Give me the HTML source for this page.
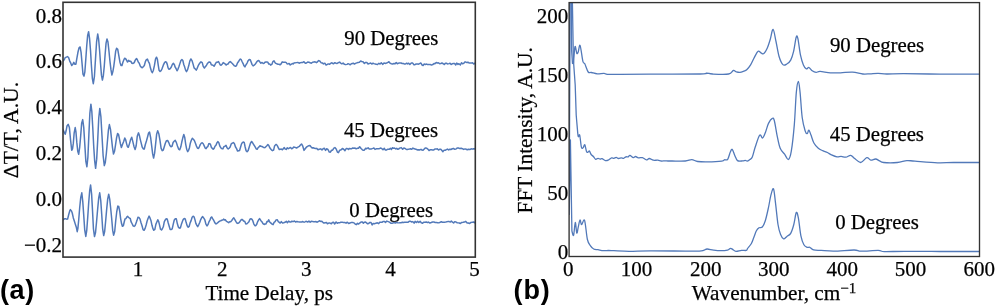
<!DOCTYPE html>
<html><head><meta charset="utf-8"><title>Figure</title>
<style>
html,body{margin:0;padding:0;background:#fff;width:996px;height:307px;overflow:hidden;}
svg{display:block;will-change:transform;}
text{font-family:"Liberation Serif", serif;stroke:#000;stroke-width:0.25px;}
.pl{font-family:"Liberation Sans", sans-serif;font-weight:bold;stroke:none;}

</style></head>
<body>
<svg width="996" height="307" viewBox="0 0 996 307" font-family="Liberation Serif, serif" fill="#000">
<defs>
<clipPath id="cl"><rect x="63" y="2.3" width="412.3" height="254.8"/></clipPath>
<clipPath id="cr"><rect x="569.1" y="2.6" width="410.4" height="253.9"/></clipPath>
</defs>
<text x="62.0" y="22.5" font-size="21" text-anchor="end" >0.8</text>
<text x="62.0" y="68.3" font-size="21" text-anchor="end" >0.6</text>
<text x="62.0" y="114.2" font-size="21" text-anchor="end" >0.4</text>
<text x="62.0" y="160.1" font-size="21" text-anchor="end" >0.2</text>
<text x="62.0" y="206.1" font-size="21" text-anchor="end" >0.0</text>
<text x="62.0" y="252.1" font-size="21" text-anchor="end" >−0.2</text>
<text x="138.1" y="276.2" font-size="21" text-anchor="middle" >1</text>
<text x="222.3" y="276.2" font-size="21" text-anchor="middle" >2</text>
<text x="306.3" y="276.2" font-size="21" text-anchor="middle" >3</text>
<text x="390.5" y="276.2" font-size="21" text-anchor="middle" >4</text>
<text x="474.6" y="276.2" font-size="21" text-anchor="middle" >5</text>
<text x="269.2" y="299.8" font-size="21.15" text-anchor="middle" >Time Delay, ps</text>
<text transform="translate(17.7,130.1) rotate(-90)" font-size="21.6" text-anchor="middle">ΔT/T, A.U.</text>
<text x="391.3" y="45.4" font-size="20.8" text-anchor="middle" >90 Degrees</text>
<text x="391.0" y="136.8" font-size="20.8" text-anchor="middle" >45 Degrees</text>
<text x="391.2" y="216.8" font-size="20.8" text-anchor="middle" >0 Degrees</text>
<text x="568.2" y="22.5" font-size="21" text-anchor="end" >200</text>
<text x="568.2" y="81.6" font-size="21" text-anchor="end" >150</text>
<text x="568.2" y="140.7" font-size="21" text-anchor="end" >100</text>
<text x="568.2" y="199.7" font-size="21" text-anchor="end" >50</text>
<text x="568.2" y="258.8" font-size="21" text-anchor="end" >0</text>
<text x="568.3" y="276.2" font-size="21" text-anchor="middle" >0</text>
<text x="636.6" y="276.2" font-size="21" text-anchor="middle" >100</text>
<text x="705.8" y="276.2" font-size="21" text-anchor="middle" >200</text>
<text x="773.8" y="276.2" font-size="21" text-anchor="middle" >300</text>
<text x="842.3" y="276.2" font-size="21" text-anchor="middle" >400</text>
<text x="910.6" y="276.2" font-size="21" text-anchor="middle" >500</text>
<text x="979.2" y="276.2" font-size="21" text-anchor="middle" >600</text>
<text x="774.0" y="299.7" font-size="21.25" text-anchor="middle">Wavenumber, cm<tspan font-size="15" dy="-7">−1</tspan></text>
<text transform="translate(532.0,130.3) rotate(-90)" font-size="21.4" text-anchor="middle">FFT Intensity, A.U.</text>
<text x="877.0" y="52.0" font-size="20.8" text-anchor="middle" >90 Degrees</text>
<text x="876.9" y="140.6" font-size="20.8" text-anchor="middle" >45 Degrees</text>
<text x="877.0" y="229.0" font-size="20.8" text-anchor="middle" >0 Degrees</text>
<text x="0" y="299" class="pl" font-size="27" letter-spacing="0.6">(a)</text>
<text x="513.5" y="299" class="pl" font-size="27" letter-spacing="0.9">(b)</text>
<g clip-path="url(#cl)" fill="none" stroke="#5279b9" stroke-width="1.5" stroke-linejoin="round">
<path d="M62.50,61.80 L63.18,60.56 L64.14,59.94 L65.25,57.43 L66.38,57.10 L67.40,56.57 L68.57,57.54 L69.73,61.09 L70.79,63.16 L71.70,65.59 L72.89,64.19 L73.80,62.40 L74.72,64.15 L75.90,64.16 L76.81,58.74 L77.89,52.54 L79.02,47.80 L80.10,46.96 L81.08,52.40 L82.03,63.09 L82.98,74.22 L84.00,76.13 L84.87,71.82 L85.78,59.38 L86.72,46.01 L87.66,35.34 L88.60,31.67 L89.54,38.34 L90.49,50.11 L91.44,65.93 L92.38,78.69 L93.30,83.68 L94.41,76.53 L95.50,58.85 L96.59,41.80 L97.70,34.00 L98.62,39.24 L99.56,49.95 L100.51,63.24 L101.46,75.17 L102.40,80.02 L103.32,75.83 L104.23,66.66 L105.14,54.31 L106.06,43.11 L107.00,38.93 L107.96,41.99 L108.95,51.02 L109.94,61.16 L110.93,69.46 L111.90,75.02 L112.86,71.61 L113.81,66.06 L114.75,58.95 L115.68,51.12 L116.60,48.28 L117.74,49.32 L118.87,55.92 L119.96,62.20 L121.00,65.42 L121.97,65.59 L122.90,62.23 L123.78,60.05 L124.60,58.26 L125.65,58.75 L126.61,60.23 L127.40,62.08 L127.89,61.74 L128.60,60.36 L129.52,61.27 L130.71,61.25 L131.97,63.25 L133.10,63.45 L134.23,62.62 L135.24,60.12 L136.50,58.53 L137.32,59.71 L138.25,62.02 L139.24,63.14 L140.25,66.03 L141.25,67.17 L142.20,67.75 L143.28,66.67 L144.33,65.50 L145.37,61.63 L146.39,59.59 L147.40,59.11 L148.41,61.53 L149.42,63.45 L150.40,67.83 L151.37,71.04 L152.30,72.75 L153.41,70.19 L154.48,65.19 L155.51,59.19 L156.50,57.16 L157.40,59.27 L158.23,65.09 L159.09,70.27 L160.10,71.51 L161.08,70.76 L162.18,68.34 L163.32,65.17 L164.42,62.81 L165.40,61.65 L166.40,62.12 L167.26,64.39 L168.08,67.93 L169.00,69.28 L170.06,68.73 L171.20,67.19 L172.34,64.51 L173.40,63.23 L174.33,64.60 L175.17,67.20 L176.03,68.52 L177.00,70.78 L177.90,69.26 L178.88,66.77 L179.90,63.62 L180.92,60.51 L181.90,59.63 L182.84,60.53 L183.77,64.50 L184.69,67.12 L185.60,70.12 L186.50,71.60 L187.61,69.66 L188.71,65.82 L189.80,61.12 L190.90,58.95 L191.97,60.58 L193.02,63.89 L194.11,67.88 L195.30,69.09 L196.20,70.12 L197.19,68.34 L198.21,65.72 L199.22,63.99 L200.17,62.60 L201.00,61.87 L202.24,62.57 L203.23,66.36 L204.40,68.04 L205.34,66.66 L206.39,65.51 L207.49,63.41 L208.56,62.21 L209.50,62.03 L210.46,62.42 L211.29,64.70 L212.09,64.92 L213.00,65.29 L214.08,66.26 L215.25,64.23 L216.42,62.23 L217.50,62.17 L218.48,61.56 L219.39,63.25 L220.24,64.92 L221.00,65.22 L222.14,64.19 L223.20,62.59 L224.03,63.23 L224.94,63.70 L226.10,65.06 L226.99,64.29 L228.02,63.99 L229.10,62.42 L230.19,61.62 L231.20,62.43 L232.34,63.47 L233.42,64.66 L234.50,65.89 L235.60,66.34 L236.52,65.44 L237.46,63.06 L238.41,61.82 L239.36,60.13 L240.30,59.00 L241.23,59.69 L242.16,61.72 L243.09,63.57 L244.00,65.85 L244.90,66.88 L246.01,64.77 L247.09,63.06 L248.16,60.64 L249.20,59.47 L250.19,59.65 L251.14,61.99 L252.10,64.62 L253.10,65.88 L254.19,65.17 L255.33,63.95 L256.46,62.32 L257.50,60.98 L258.75,60.58 L259.89,62.02 L260.90,63.21 L262.09,62.49 L263.20,63.47 L264.03,63.32 L264.91,62.27 L266.00,61.93 L266.82,61.88 L267.77,62.17 L268.76,64.10 L269.73,64.05 L270.60,65.11 L271.80,64.42 L272.87,61.71 L274.00,60.83 L274.91,62.40 L275.83,63.38 L276.83,63.79 L278.00,64.37 L278.93,64.18 L279.99,64.84 L281.10,63.84 L282.21,61.87 L283.27,62.35 L284.20,62.32 L285.31,62.14 L286.23,62.56 L287.12,63.91 L288.20,63.77 L289.13,63.57 L290.21,65.00 L291.35,64.14 L292.43,63.57 L293.35,63.94 L294.00,62.89 L295.38,62.87 L296.48,62.62 L297.72,62.42 L299.12,63.21 L300.30,62.63 L301.70,62.47 L302.91,62.41 L303.96,61.72 L305.30,63.30 L306.53,62.98 L307.74,62.00 L308.97,62.13 L310.06,62.85 L311.39,63.15 L312.56,62.24 L313.85,62.02 L315.07,61.81 L316.45,62.63 L317.53,61.88 L318.56,60.58 L319.73,61.03 L321.01,62.65 L322.40,62.91 L323.43,63.87 L324.86,63.17 L326.05,65.08 L327.41,64.28 L328.53,63.88 L329.65,64.34 L330.82,63.17 L331.94,62.84 L333.37,63.80 L334.80,62.68 L336.13,63.23 L337.15,63.49 L338.24,62.70 L339.64,62.10 L340.62,63.02 L341.79,63.76 L343.13,63.10 L344.50,64.33 L345.63,64.63 L347.03,64.38 L348.11,63.66 L349.14,64.09 L350.25,64.81 L351.35,63.70 L352.32,63.43 L353.29,63.19 L354.47,64.03 L355.48,63.41 L356.85,62.88 L358.05,62.45 L359.41,62.28 L360.67,61.06 L361.70,61.50 L363.01,61.68 L364.38,63.44 L365.66,62.44 L366.84,62.54 L368.01,63.96 L369.23,63.58 L370.66,62.93 L371.80,64.02 L373.00,63.20 L374.09,63.64 L375.24,63.95 L376.31,64.34 L377.53,64.46 L378.91,63.26 L380.02,64.05 L381.29,62.77 L382.65,64.37 L384.00,62.91 L385.22,63.42 L386.57,63.09 L387.96,62.30 L388.94,61.73 L390.07,63.18 L391.33,63.76 L392.62,64.03 L393.94,63.49 L395.15,63.84 L396.23,62.54 L397.32,63.73 L398.75,63.07 L399.89,63.09 L401.15,63.06 L402.15,63.50 L403.25,63.46 L404.22,63.92 L405.51,64.01 L406.61,63.21 L407.63,63.97 L408.68,63.23 L409.86,64.47 L411.29,63.05 L412.70,63.12 L413.94,64.70 L414.97,64.73 L416.17,63.99 L417.56,63.94 L418.53,64.21 L419.64,63.54 L420.76,62.92 L422.08,64.99 L423.10,65.47 L424.20,64.08 L425.35,64.41 L426.51,64.08 L427.50,64.48 L428.91,64.61 L429.99,64.37 L431.41,65.12 L432.76,64.56 L433.99,63.55 L434.97,63.63 L436.24,62.46 L437.22,63.06 L438.35,62.73 L439.66,63.71 L440.77,63.51 L441.92,63.00 L443.31,63.71 L444.38,64.57 L445.40,63.29 L446.41,63.25 L447.49,63.94 L448.88,63.62 L450.09,63.16 L451.21,64.51 L452.23,63.77 L453.49,63.48 L454.57,63.48 L455.75,64.97 L456.72,63.15 L458.02,64.40 L458.98,63.71 L460.38,65.02 L461.46,62.77 L462.50,63.76 L463.80,63.25 L465.13,61.82 L466.46,62.43 L467.87,62.16 L468.95,62.95 L470.24,62.99 L471.48,62.93 L472.55,62.80 L473.73,64.03 L475.00,63.08 L475.30,64.13"/>
<path d="M62.50,128.75 L63.23,130.12 L64.27,132.35 L65.20,134.30 L66.12,130.79 L67.00,125.96 L68.17,124.31 L69.40,127.58 L70.60,140.24 L71.70,150.24 L72.52,148.90 L73.30,143.42 L74.13,133.25 L75.20,127.61 L75.95,131.92 L76.82,142.42 L77.75,151.23 L78.70,154.21 L79.66,147.34 L80.66,136.13 L81.67,123.17 L82.70,119.64 L83.74,127.39 L84.80,144.34 L85.86,161.36 L86.90,166.75 L87.90,157.05 L88.87,134.85 L89.86,113.40 L90.90,104.13 L91.80,111.12 L92.75,127.25 L93.72,146.51 L94.68,160.98 L95.60,168.32 L96.68,159.15 L97.71,140.16 L98.74,118.21 L99.80,108.44 L100.89,116.55 L101.99,135.71 L103.13,155.76 L104.30,165.65 L105.30,162.44 L106.34,153.48 L107.40,141.45 L108.43,129.93 L109.40,124.57 L110.50,129.33 L111.51,138.61 L112.50,147.62 L113.50,154.08 L114.53,151.31 L115.57,144.74 L116.60,137.60 L117.60,133.54 L118.58,134.62 L119.54,139.31 L120.49,144.00 L121.40,147.47 L122.56,144.23 L123.67,141.53 L124.80,138.00 L125.67,139.72 L126.55,143.61 L127.43,146.65 L128.30,147.29 L129.44,143.87 L130.57,139.74 L131.70,137.18 L132.83,141.64 L133.97,146.40 L135.10,149.47 L136.18,145.72 L137.26,136.37 L138.50,132.85 L139.35,135.28 L140.25,139.36 L141.21,143.08 L142.23,147.21 L143.30,148.96 L144.28,149.01 L145.34,144.46 L146.44,140.93 L147.54,136.95 L148.57,132.94 L149.50,132.01 L150.67,137.74 L151.68,145.88 L152.62,153.68 L153.60,158.07 L154.62,153.10 L155.62,143.87 L156.65,134.12 L157.70,130.73 L158.80,133.66 L159.94,140.14 L161.08,148.12 L162.20,150.69 L163.28,150.02 L164.35,146.56 L165.42,143.05 L166.50,140.67 L167.62,140.43 L168.76,142.58 L169.89,145.41 L171.00,146.69 L172.06,146.29 L173.10,142.55 L174.14,141.24 L175.20,140.31 L176.31,142.39 L177.46,145.96 L178.60,149.09 L179.70,149.81 L180.76,147.10 L181.79,142.03 L182.80,137.82 L183.80,134.58 L184.77,137.57 L185.72,144.28 L186.68,149.19 L187.70,151.66 L188.57,150.28 L189.46,147.64 L190.38,142.92 L191.33,140.25 L192.30,138.25 L193.31,139.20 L194.36,140.43 L195.43,143.27 L196.48,146.12 L197.50,148.30 L198.48,148.38 L199.45,146.56 L200.40,144.39 L201.32,143.13 L202.20,142.80 L203.24,143.79 L204.22,145.87 L205.17,148.02 L206.10,148.68 L207.00,147.02 L207.87,146.50 L208.73,143.84 L209.60,143.61 L210.47,144.38 L211.33,147.19 L212.23,148.36 L213.20,149.27 L214.07,148.36 L215.00,146.28 L215.96,145.27 L216.91,142.86 L217.80,141.60 L218.84,142.73 L219.83,146.09 L220.78,147.74 L221.70,148.64 L222.85,148.88 L223.93,146.65 L225.00,146.03 L226.00,145.38 L226.99,147.65 L228.20,148.94 L229.11,148.27 L230.14,147.01 L231.22,143.97 L232.33,143.19 L233.40,142.55 L234.45,143.68 L235.51,147.03 L236.56,148.66 L237.60,151.08 L238.60,150.78 L239.57,150.47 L240.52,147.30 L241.44,144.12 L242.33,142.67 L243.20,142.06 L244.21,142.43 L245.16,147.01 L246.10,150.77 L247.10,151.82 L248.18,150.57 L249.31,146.73 L250.45,143.26 L251.60,141.48 L252.51,142.55 L253.43,144.27 L254.36,145.63 L255.28,147.22 L256.20,148.81 L257.14,149.32 L258.11,147.72 L259.06,146.88 L259.97,145.75 L260.80,146.30 L261.94,146.53 L262.93,147.00 L264.00,147.72 L264.91,147.62 L265.86,146.69 L266.86,145.74 L267.90,144.50 L268.80,145.41 L269.76,147.79 L270.73,148.98 L271.66,150.11 L272.50,150.67 L273.62,150.09 L274.58,145.95 L275.70,144.61 L276.53,144.62 L277.43,145.83 L278.39,148.02 L279.35,149.56 L280.30,149.27 L281.31,149.11 L282.40,149.76 L283.45,148.43 L284.36,147.64 L285.00,148.88 L286.16,149.45 L287.34,147.81 L288.31,148.71 L289.31,148.14 L290.45,147.44 L291.66,148.71 L292.67,148.26 L293.73,146.97 L295.14,147.39 L296.55,148.01 L297.94,147.17 L299.28,146.42 L300.43,144.97 L301.50,143.99 L302.71,145.96 L304.01,150.39 L304.99,149.03 L306.36,147.21 L307.60,146.29 L308.76,145.64 L309.93,145.48 L310.90,146.74 L312.10,147.90 L313.28,147.67 L314.46,148.34 L315.47,148.52 L316.67,148.37 L317.98,149.70 L319.19,149.30 L320.61,148.85 L321.98,149.86 L323.03,148.86 L324.23,148.22 L325.56,150.43 L326.56,148.79 L327.95,149.50 L329.30,152.06 L330.36,152.15 L331.56,150.23 L332.60,150.23 L333.88,148.07 L334.90,147.57 L336.16,148.96 L337.40,152.05 L338.41,152.69 L339.76,150.16 L341.19,149.80 L342.36,148.50 L343.68,149.23 L344.95,150.62 L346.19,148.56 L347.17,148.48 L348.42,149.41 L349.44,148.41 L350.72,148.67 L351.73,148.67 L352.80,147.99 L354.06,148.30 L355.08,148.04 L356.09,148.86 L357.46,148.27 L358.43,148.32 L359.66,146.69 L361.07,148.46 L362.15,149.59 L363.30,150.31 L364.29,150.17 L365.70,148.24 L366.76,148.76 L368.11,147.72 L369.22,149.08 L370.55,148.96 L371.52,148.90 L372.83,148.40 L373.90,147.93 L375.02,149.41 L376.32,148.85 L377.54,148.67 L378.88,148.80 L380.30,148.07 L381.69,148.44 L383.00,149.76 L384.32,148.33 L385.40,150.07 L386.66,149.98 L387.84,149.23 L389.14,149.33 L390.37,148.31 L391.44,149.36 L392.46,147.74 L393.48,148.31 L394.45,148.01 L395.74,148.94 L396.73,148.36 L397.87,149.30 L398.86,148.75 L400.26,147.87 L401.27,147.61 L402.64,149.32 L403.90,147.95 L404.91,148.41 L406.02,149.17 L406.99,149.66 L408.13,149.21 L409.55,149.01 L410.53,148.68 L411.70,149.30 L412.92,148.13 L414.29,148.68 L415.25,149.07 L416.58,149.56 L417.77,150.05 L418.82,149.74 L419.91,149.96 L421.00,149.28 L422.01,150.05 L423.01,150.36 L424.27,148.96 L425.43,147.89 L426.81,148.33 L427.87,149.13 L429.01,150.58 L430.09,149.83 L431.41,149.72 L432.54,149.95 L433.81,149.94 L434.85,149.05 L435.88,149.12 L437.26,148.86 L438.56,150.07 L439.59,149.26 L440.80,149.14 L441.92,150.45 L442.93,151.64 L443.94,150.36 L445.25,150.30 L446.30,149.61 L447.45,149.05 L448.60,149.94 L449.87,149.26 L450.89,149.48 L452.29,148.75 L453.52,148.45 L454.83,149.32 L456.16,148.85 L457.43,147.92 L458.54,147.95 L459.88,148.56 L461.14,148.27 L462.40,148.71 L463.68,149.43 L465.01,148.89 L466.21,149.31 L467.25,149.75 L468.66,149.24 L469.88,149.52 L471.08,148.79 L472.24,149.15 L473.30,148.84 L474.32,149.08 L475.30,148.47"/>
<path d="M62.50,219.77 L63.31,219.77 L64.46,218.84 L65.50,218.74 L66.60,219.14 L67.60,219.10 L68.73,214.47 L69.80,210.71 L70.42,209.64 L71.40,210.85 L72.24,213.01 L73.32,217.91 L74.49,221.53 L75.57,225.10 L76.40,227.57 L77.22,231.71 L77.90,228.33 L78.70,219.99 L79.69,207.81 L80.76,197.41 L81.80,192.83 L82.77,201.49 L83.74,215.34 L84.74,230.21 L85.80,236.44 L86.72,230.70 L87.71,217.53 L88.71,202.51 L89.68,190.72 L90.60,184.96 L91.61,194.09 L92.52,210.62 L93.45,229.02 L94.50,236.60 L95.48,232.82 L96.54,221.98 L97.64,209.28 L98.72,197.87 L99.70,192.85 L100.76,200.58 L101.71,214.32 L102.66,228.80 L103.70,235.56 L104.64,231.62 L105.63,221.29 L106.66,209.38 L107.69,199.09 L108.70,194.17 L109.70,199.03 L110.70,208.46 L111.70,218.74 L112.67,230.13 L113.60,235.19 L114.69,231.51 L115.72,220.79 L116.74,211.75 L117.80,206.13 L118.73,206.52 L119.71,211.18 L120.68,218.79 L121.60,223.81 L122.40,226.28 L123.41,225.53 L124.21,221.99 L125.00,219.05 L125.89,218.64 L126.79,217.09 L127.60,216.31 L128.43,217.24 L129.50,218.10 L130.24,218.51 L131.14,221.94 L132.12,223.76 L133.12,225.87 L134.10,226.39 L135.04,225.75 L135.99,223.23 L136.94,220.59 L137.91,217.34 L138.90,217.53 L139.92,218.87 L140.96,222.50 L142.02,225.74 L143.07,229.58 L144.10,230.29 L145.12,228.40 L146.13,225.04 L147.13,220.95 L148.12,218.27 L149.10,216.15 L150.07,218.18 L151.04,220.84 L151.98,225.29 L152.91,228.63 L153.80,230.27 L154.86,229.40 L155.86,224.34 L156.84,222.07 L157.80,219.75 L158.72,221.56 L159.61,225.36 L160.51,229.25 L161.50,229.99 L162.37,228.77 L163.30,226.79 L164.26,221.86 L165.23,219.95 L166.20,218.73 L167.18,218.87 L168.18,222.70 L169.18,226.21 L170.16,229.47 L171.10,229.61 L172.20,228.88 L173.25,224.09 L174.27,220.01 L175.30,218.78 L176.32,218.81 L177.31,223.53 L178.33,226.97 L179.40,228.13 L180.33,227.96 L181.31,224.60 L182.30,221.77 L183.28,219.29 L184.20,218.56 L185.24,218.99 L186.19,222.58 L187.16,225.75 L188.20,227.29 L189.13,226.51 L190.11,222.89 L191.12,220.62 L192.12,217.22 L193.10,216.21 L194.03,216.77 L194.94,219.61 L195.85,223.36 L196.76,225.30 L197.70,226.60 L198.69,224.83 L199.70,222.43 L200.73,219.54 L201.74,217.61 L202.70,216.63 L203.81,218.19 L204.86,219.95 L205.91,224.19 L207.00,225.96 L207.94,224.67 L208.93,221.97 L209.93,220.11 L210.90,217.62 L211.80,216.97 L212.79,218.89 L213.68,220.22 L214.58,222.32 L215.60,223.69 L216.54,223.85 L217.57,222.78 L218.63,221.97 L219.69,221.17 L220.70,220.73 L221.67,220.24 L222.63,220.12 L223.57,219.16 L224.46,219.91 L225.30,219.73 L226.46,221.40 L227.49,221.87 L228.70,222.66 L229.63,221.76 L230.67,221.72 L231.76,220.47 L232.82,218.83 L233.80,217.88 L234.86,219.55 L235.83,221.40 L236.78,222.94 L237.80,223.39 L238.68,223.06 L239.60,222.13 L240.54,220.58 L241.48,219.62 L242.40,219.54 L243.54,220.95 L244.69,221.32 L245.81,223.99 L246.90,223.82 L247.94,222.83 L248.93,221.75 L249.91,219.15 L250.90,218.81 L251.88,219.20 L252.86,220.96 L253.85,224.09 L254.90,225.66 L255.80,225.68 L256.74,224.23 L257.70,221.51 L258.66,219.83 L259.60,218.62 L260.74,220.44 L261.86,221.73 L262.97,223.69 L264.10,224.48 L265.03,224.02 L265.99,223.98 L266.94,221.56 L267.86,221.74 L268.70,219.70 L269.90,222.20 L270.97,223.17 L272.10,224.18 L273.06,224.71 L274.07,222.42 L275.09,221.69 L276.10,219.87 L277.17,219.74 L278.30,221.63 L279.30,222.33 L280.00,223.10 L281.31,221.65 L282.57,223.06 L283.65,222.74 L284.96,222.30 L286.31,221.31 L287.42,222.73 L288.61,221.11 L289.75,221.94 L290.78,222.09 L291.91,221.21 L293.06,221.63 L294.47,221.01 L295.46,221.93 L296.76,221.60 L298.19,221.86 L299.44,221.98 L300.58,222.11 L301.83,221.97 L302.79,221.54 L303.95,222.16 L304.93,221.85 L306.28,221.30 L307.65,222.01 L308.94,221.11 L310.16,222.29 L311.22,221.36 L312.47,221.41 L313.65,221.79 L314.99,221.67 L316.00,221.55 L317.23,222.22 L318.62,221.39 L319.67,220.77 L320.72,221.49 L321.87,221.22 L322.90,222.28 L323.91,223.04 L325.25,222.70 L326.46,222.41 L327.44,223.80 L328.67,223.12 L330.00,223.08 L331.35,223.76 L332.44,222.48 L333.44,222.19 L334.66,223.96 L336.06,221.95 L337.31,223.35 L338.39,222.71 L339.66,222.85 L340.83,222.18 L342.26,222.13 L343.34,222.57 L344.73,222.49 L346.07,223.15 L347.34,222.17 L348.66,223.51 L349.95,222.97 L350.96,222.60 L352.04,222.51 L353.12,222.62 L354.40,223.12 L355.38,224.27 L356.45,224.65 L357.47,223.32 L358.48,224.08 L359.66,223.03 L361.01,222.03 L362.08,221.88 L363.38,223.10 L364.47,222.18 L365.50,221.94 L366.54,222.89 L367.66,223.81 L368.64,223.46 L369.92,222.38 L371.01,222.54 L372.14,224.95 L373.15,223.45 L374.54,223.75 L375.97,223.17 L377.32,222.77 L378.68,223.66 L379.73,222.19 L380.96,222.28 L382.01,222.36 L383.00,221.51 L384.26,221.45 L385.51,222.40 L386.86,221.07 L388.17,221.63 L389.48,222.16 L390.84,223.30 L392.04,223.31 L393.42,222.84 L394.47,222.66 L395.61,222.99 L396.57,222.39 L397.59,222.68 L398.94,222.87 L400.08,222.67 L401.07,222.82 L402.28,222.17 L403.49,222.54 L404.54,222.32 L405.62,222.23 L406.92,222.22 L407.89,222.36 L409.18,221.32 L410.56,221.36 L411.76,221.97 L412.85,221.61 L414.10,223.15 L415.13,221.34 L416.48,222.52 L417.63,221.26 L418.78,222.48 L420.11,221.33 L421.28,222.81 L422.63,223.16 L423.61,222.18 L425.03,222.26 L426.30,222.03 L427.51,222.61 L428.48,222.05 L429.91,223.01 L431.26,222.56 L432.64,221.99 L433.93,222.08 L435.15,222.44 L436.36,222.44 L437.77,222.70 L438.79,222.87 L440.21,222.29 L441.43,221.67 L442.44,222.32 L443.54,222.20 L444.55,222.15 L445.78,222.07 L446.84,221.85 L448.09,221.40 L449.20,221.60 L450.34,222.08 L451.31,221.08 L452.54,222.19 L453.63,222.99 L454.67,221.65 L456.05,222.08 L457.22,222.74 L458.23,222.87 L459.26,222.98 L460.39,223.53 L461.75,222.39 L463.06,222.27 L464.40,222.08 L465.80,221.38 L467.13,222.92 L468.32,222.98 L469.66,223.55 L470.91,222.42 L472.22,222.35 L473.37,222.00 L474.70,222.81 L475.30,221.62"/>
</g>
<g clip-path="url(#cr)" fill="none" stroke="#5279b9" stroke-width="1.3" stroke-linejoin="round">
<path d="M569.20,120.00 L570.30,-300.00 L571.60,50.00 L572.50,63.50 L573.50,63.20 C573.75,60.45 574.45,48.35 575.00,46.70 C575.55,45.05 576.27,52.43 576.80,53.30 C577.33,54.17 577.65,53.20 578.20,51.90 C578.75,50.60 579.32,43.92 580.10,45.50 C580.88,47.08 582.12,58.35 582.90,61.40 C583.68,64.45 583.92,62.03 584.80,63.80 C585.68,65.57 587.10,70.55 588.20,72.00 C589.30,73.45 589.88,72.18 591.40,72.50 C592.92,72.82 595.20,73.77 597.30,73.90 C599.40,74.03 602.30,73.23 604.00,73.30 C605.70,73.37 604.83,74.13 607.50,74.30 C610.17,74.47 612.92,74.33 620.00,74.30 C627.08,74.27 636.67,74.15 650.00,74.10 C663.33,74.05 690.53,74.17 700.00,74.00 C709.47,73.83 704.72,73.10 706.80,73.10 C708.88,73.10 708.87,73.85 712.50,74.00 C716.13,74.15 725.13,74.58 728.60,74.00 C732.07,73.42 732.00,70.85 733.30,70.50 C734.60,70.15 735.30,71.58 736.40,71.90 C737.50,72.22 738.67,72.52 739.90,72.40 C741.13,72.28 742.67,71.63 743.80,71.20 C744.93,70.77 745.57,70.85 746.70,69.80 C747.83,68.75 749.30,67.02 750.60,64.90 C751.90,62.78 753.25,59.37 754.50,57.10 C755.75,54.83 756.95,51.95 758.10,51.30 C759.25,50.65 760.43,52.82 761.40,53.20 C762.37,53.58 762.93,54.42 763.90,53.60 C764.87,52.78 766.15,50.65 767.20,48.30 C768.25,45.95 769.22,42.65 770.20,39.50 C771.18,36.35 772.13,29.07 773.10,29.40 C774.07,29.73 775.02,37.03 776.00,41.50 C776.98,45.97 777.85,52.35 779.00,56.20 C780.15,60.05 781.60,63.30 782.90,64.60 C784.20,65.90 785.50,64.75 786.80,64.00 C788.10,63.25 789.57,62.22 790.70,60.10 C791.83,57.98 792.68,55.12 793.60,51.30 C794.52,47.48 795.48,39.32 796.20,37.20 C796.92,35.08 797.18,35.60 797.90,38.60 C798.62,41.60 799.58,50.82 800.50,55.20 C801.42,59.58 802.43,62.62 803.40,64.90 C804.37,67.18 805.38,68.47 806.30,68.90 C807.22,69.33 807.92,67.18 808.90,67.50 C809.88,67.82 811.00,69.98 812.20,70.80 C813.40,71.62 814.78,72.30 816.10,72.40 C817.42,72.50 817.72,71.33 820.10,71.40 C822.48,71.47 826.98,72.57 830.40,72.80 C833.82,73.03 836.92,72.92 840.60,72.80 C844.28,72.68 848.80,71.90 852.50,72.10 C856.20,72.30 859.88,73.72 862.80,74.00 C865.72,74.28 867.45,73.92 870.00,73.80 C872.55,73.68 875.32,73.27 878.10,73.30 C880.88,73.33 882.43,73.93 886.70,74.00 C890.97,74.07 894.82,73.68 903.70,73.70 C912.58,73.72 927.45,74.02 940.00,74.10 C952.55,74.18 972.50,74.18 979.00,74.20"/>
<path d="M569.20,200.00 L571.60,-300.00 L572.40,2.50 L573.40,60.00 L575.20,85.00 L576.20,115.00 C576.35,116.77 576.77,122.03 577.10,125.60 C577.43,129.17 577.77,134.82 578.20,136.40 C578.63,137.98 579.17,133.32 579.70,135.10 C580.23,136.88 580.83,145.00 581.40,147.10 C581.97,149.20 582.53,148.08 583.10,147.70 C583.67,147.32 584.22,144.13 584.80,144.80 C585.38,145.47 586.02,150.52 586.60,151.70 C587.18,152.88 587.83,152.00 588.30,151.90 C588.77,151.80 588.93,150.67 589.40,151.10 C589.87,151.53 590.43,153.60 591.10,154.50 C591.77,155.40 592.63,155.68 593.40,156.50 C594.17,157.32 594.93,159.10 595.70,159.40 C596.47,159.70 597.25,158.35 598.00,158.30 C598.75,158.25 599.53,159.03 600.20,159.10 C600.87,159.17 601.13,158.45 602.00,158.70 C602.87,158.95 604.37,160.35 605.40,160.60 C606.43,160.85 607.17,160.65 608.20,160.20 C609.23,159.75 610.65,158.22 611.60,157.90 C612.55,157.58 613.13,158.38 613.90,158.30 C614.67,158.22 615.43,157.37 616.20,157.40 C616.97,157.43 617.65,158.42 618.50,158.50 C619.35,158.58 620.45,157.93 621.30,157.90 C622.15,157.87 622.83,158.48 623.60,158.30 C624.37,158.12 625.13,157.05 625.90,156.80 C626.67,156.55 627.53,157.05 628.20,156.80 C628.87,156.55 629.05,155.17 629.90,155.30 C630.75,155.43 632.35,157.40 633.30,157.60 C634.25,157.80 634.75,156.45 635.60,156.50 C636.45,156.55 637.27,157.72 638.40,157.90 C639.53,158.08 641.07,157.27 642.40,157.60 C643.73,157.93 645.25,159.75 646.40,159.90 C647.55,160.05 648.15,158.45 649.30,158.50 C650.45,158.55 651.88,159.92 653.30,160.20 C654.72,160.48 656.48,160.07 657.80,160.20 C659.12,160.33 660.05,160.88 661.20,161.00 C662.35,161.12 663.57,160.90 664.70,160.90 C665.83,160.90 666.75,160.98 668.00,161.00 C669.25,161.02 669.32,161.00 672.20,161.00 C675.08,161.00 682.03,161.22 685.30,161.00 C688.57,160.78 689.73,159.62 691.80,159.70 C693.87,159.78 695.08,161.13 697.70,161.50 C700.32,161.87 703.48,161.97 707.50,161.90 C711.52,161.83 718.98,161.45 721.80,161.10 C724.62,160.75 723.42,160.10 724.40,159.80 C725.38,159.50 726.72,160.60 727.70,159.30 C728.68,158.00 729.53,153.65 730.30,152.00 C731.07,150.35 731.53,148.78 732.30,149.40 C733.07,150.02 734.03,153.83 734.90,155.70 C735.77,157.57 736.20,159.73 737.50,160.60 C738.80,161.47 741.40,160.93 742.70,160.90 C744.00,160.87 744.53,160.37 745.30,160.40 C746.07,160.43 746.53,161.23 747.30,161.10 C748.07,160.97 749.07,160.27 749.90,159.60 C750.73,158.93 751.40,159.23 752.30,157.10 C753.20,154.97 754.07,150.47 755.30,146.80 C756.53,143.13 758.48,136.57 759.70,135.10 C760.92,133.63 761.63,138.48 762.60,138.00 C763.57,137.52 764.52,134.63 765.50,132.20 C766.48,129.77 767.37,125.70 768.50,123.40 C769.63,121.10 771.33,118.88 772.30,118.40 C773.27,117.92 773.47,117.47 774.30,120.50 C775.13,123.53 776.32,131.97 777.30,136.60 C778.28,141.23 778.98,145.37 780.20,148.30 C781.42,151.23 783.23,152.33 784.60,154.20 C785.97,156.07 787.28,160.00 788.40,159.50 C789.52,159.00 790.32,156.97 791.30,151.20 C792.28,145.43 793.47,134.67 794.30,124.90 C795.13,115.13 795.62,99.83 796.30,92.60 C796.98,85.37 797.77,81.50 798.40,81.50 C799.03,81.50 799.47,86.60 800.10,92.60 C800.73,98.60 801.37,111.15 802.20,117.50 C803.03,123.85 804.27,128.00 805.10,130.70 C805.93,133.40 806.57,133.80 807.20,133.70 C807.83,133.60 808.27,129.87 808.90,130.10 C809.53,130.33 810.17,132.95 811.00,135.10 C811.83,137.25 812.68,140.80 813.90,143.00 C815.12,145.20 816.83,147.02 818.30,148.30 C819.77,149.58 821.18,150.00 822.70,150.70 C824.22,151.40 825.95,151.82 827.40,152.50 C828.85,153.18 829.80,154.07 831.40,154.80 C833.00,155.53 835.38,156.63 837.00,156.90 C838.62,157.17 839.62,156.35 841.10,156.40 C842.58,156.45 844.30,157.38 845.90,157.20 C847.50,157.02 849.23,155.08 850.70,155.30 C852.17,155.52 853.03,157.30 854.70,158.50 C856.37,159.70 858.68,162.63 860.70,162.50 C862.72,162.37 865.12,158.10 866.80,157.70 C868.48,157.30 869.33,159.88 870.80,160.10 C872.27,160.32 874.13,158.87 875.60,159.00 C877.07,159.13 878.27,160.32 879.60,160.90 C880.93,161.48 880.65,162.23 883.60,162.50 C886.55,162.77 893.42,162.82 897.30,162.50 C901.18,162.18 903.95,160.82 906.90,160.60 C909.85,160.38 909.90,160.83 915.00,161.20 C920.10,161.57 931.08,162.58 937.50,162.80 C943.92,163.02 946.58,162.55 953.50,162.50 C960.42,162.45 974.75,162.50 979.00,162.50"/>
<path d="M569.20,215.00 L570.40,140.00 L571.90,231.00 C572.18,231.72 573.03,236.72 573.60,235.30 C574.17,233.88 574.77,222.87 575.30,222.50 C575.83,222.13 576.30,232.38 576.80,233.10 C577.30,233.82 577.77,228.98 578.30,226.80 C578.83,224.62 579.45,220.35 580.00,220.00 C580.55,219.65 580.83,224.63 581.60,224.70 C582.37,224.77 583.63,217.93 584.60,220.40 C585.57,222.87 586.42,235.27 587.40,239.50 C588.38,243.73 589.45,244.22 590.50,245.80 C591.55,247.38 592.45,248.35 593.70,249.00 C594.95,249.65 596.40,249.42 598.00,249.70 C599.60,249.98 601.55,250.57 603.30,250.70 C605.05,250.83 606.75,250.50 608.50,250.50 C610.25,250.50 610.37,250.55 613.80,250.70 C617.23,250.85 623.05,251.38 629.10,251.40 C635.15,251.42 640.73,250.85 650.10,250.80 C659.47,250.75 677.10,251.05 685.30,251.10 C693.50,251.15 696.25,251.22 699.30,251.10 C702.35,250.98 702.30,250.75 703.60,250.40 C704.90,250.05 705.47,249.05 707.10,249.00 C708.73,248.95 711.18,249.82 713.40,250.10 C715.62,250.38 718.05,250.70 720.40,250.70 C722.75,250.70 725.82,250.50 727.50,250.10 C729.18,249.70 729.57,248.37 730.50,248.30 C731.43,248.23 732.20,249.18 733.10,249.70 C734.00,250.22 734.50,251.28 735.90,251.40 C737.30,251.52 739.75,250.57 741.50,250.40 C743.25,250.23 745.40,250.70 746.40,250.40 C747.40,250.10 746.67,249.75 747.50,248.60 C748.33,247.45 750.33,245.40 751.40,243.50 C752.47,241.60 753.07,239.32 753.90,237.20 C754.73,235.08 755.55,232.37 756.40,230.80 C757.25,229.23 758.02,228.43 759.00,227.80 C759.98,227.17 761.25,228.18 762.30,227.00 C763.35,225.82 764.28,223.88 765.30,220.70 C766.32,217.52 767.47,212.15 768.40,207.90 C769.33,203.65 770.05,198.37 770.90,195.20 C771.75,192.03 772.73,187.62 773.50,188.90 C774.27,190.18 774.75,196.97 775.50,202.90 C776.25,208.83 777.15,219.22 778.00,224.50 C778.85,229.78 779.67,232.20 780.60,234.60 C781.53,237.00 782.55,238.60 783.60,238.90 C784.65,239.20 785.72,237.32 786.90,236.40 C788.08,235.48 789.55,235.38 790.70,233.40 C791.85,231.42 792.87,227.98 793.80,224.50 C794.73,221.02 795.53,213.57 796.30,212.50 C797.07,211.43 797.63,214.20 798.40,218.10 C799.17,222.00 799.98,231.45 800.90,235.90 C801.82,240.35 802.85,242.90 803.90,244.80 C804.95,246.70 806.22,246.88 807.20,247.30 C808.18,247.72 808.73,246.87 809.80,247.30 C810.87,247.73 811.70,249.38 813.60,249.90 C815.50,250.42 817.82,250.20 821.20,250.40 C824.58,250.60 828.42,251.17 833.90,251.10 C839.38,251.03 849.57,249.98 854.10,250.00 C858.63,250.02 857.08,251.13 861.10,251.20 C865.12,251.27 874.32,250.33 878.20,250.40 C882.08,250.47 880.00,251.45 884.40,251.60 C888.80,251.75 895.33,251.32 904.60,251.30 C913.87,251.28 927.60,251.47 940.00,251.50 C952.40,251.53 972.50,251.50 979.00,251.50"/>
</g>
<rect x="63" y="2.3" width="412.3" height="254.8" fill="none" stroke="#333" stroke-width="1.6"/>
<rect x="569.1" y="2.6" width="410.4" height="253.9" fill="none" stroke="#333" stroke-width="1.35"/>
</svg>
</body></html>
